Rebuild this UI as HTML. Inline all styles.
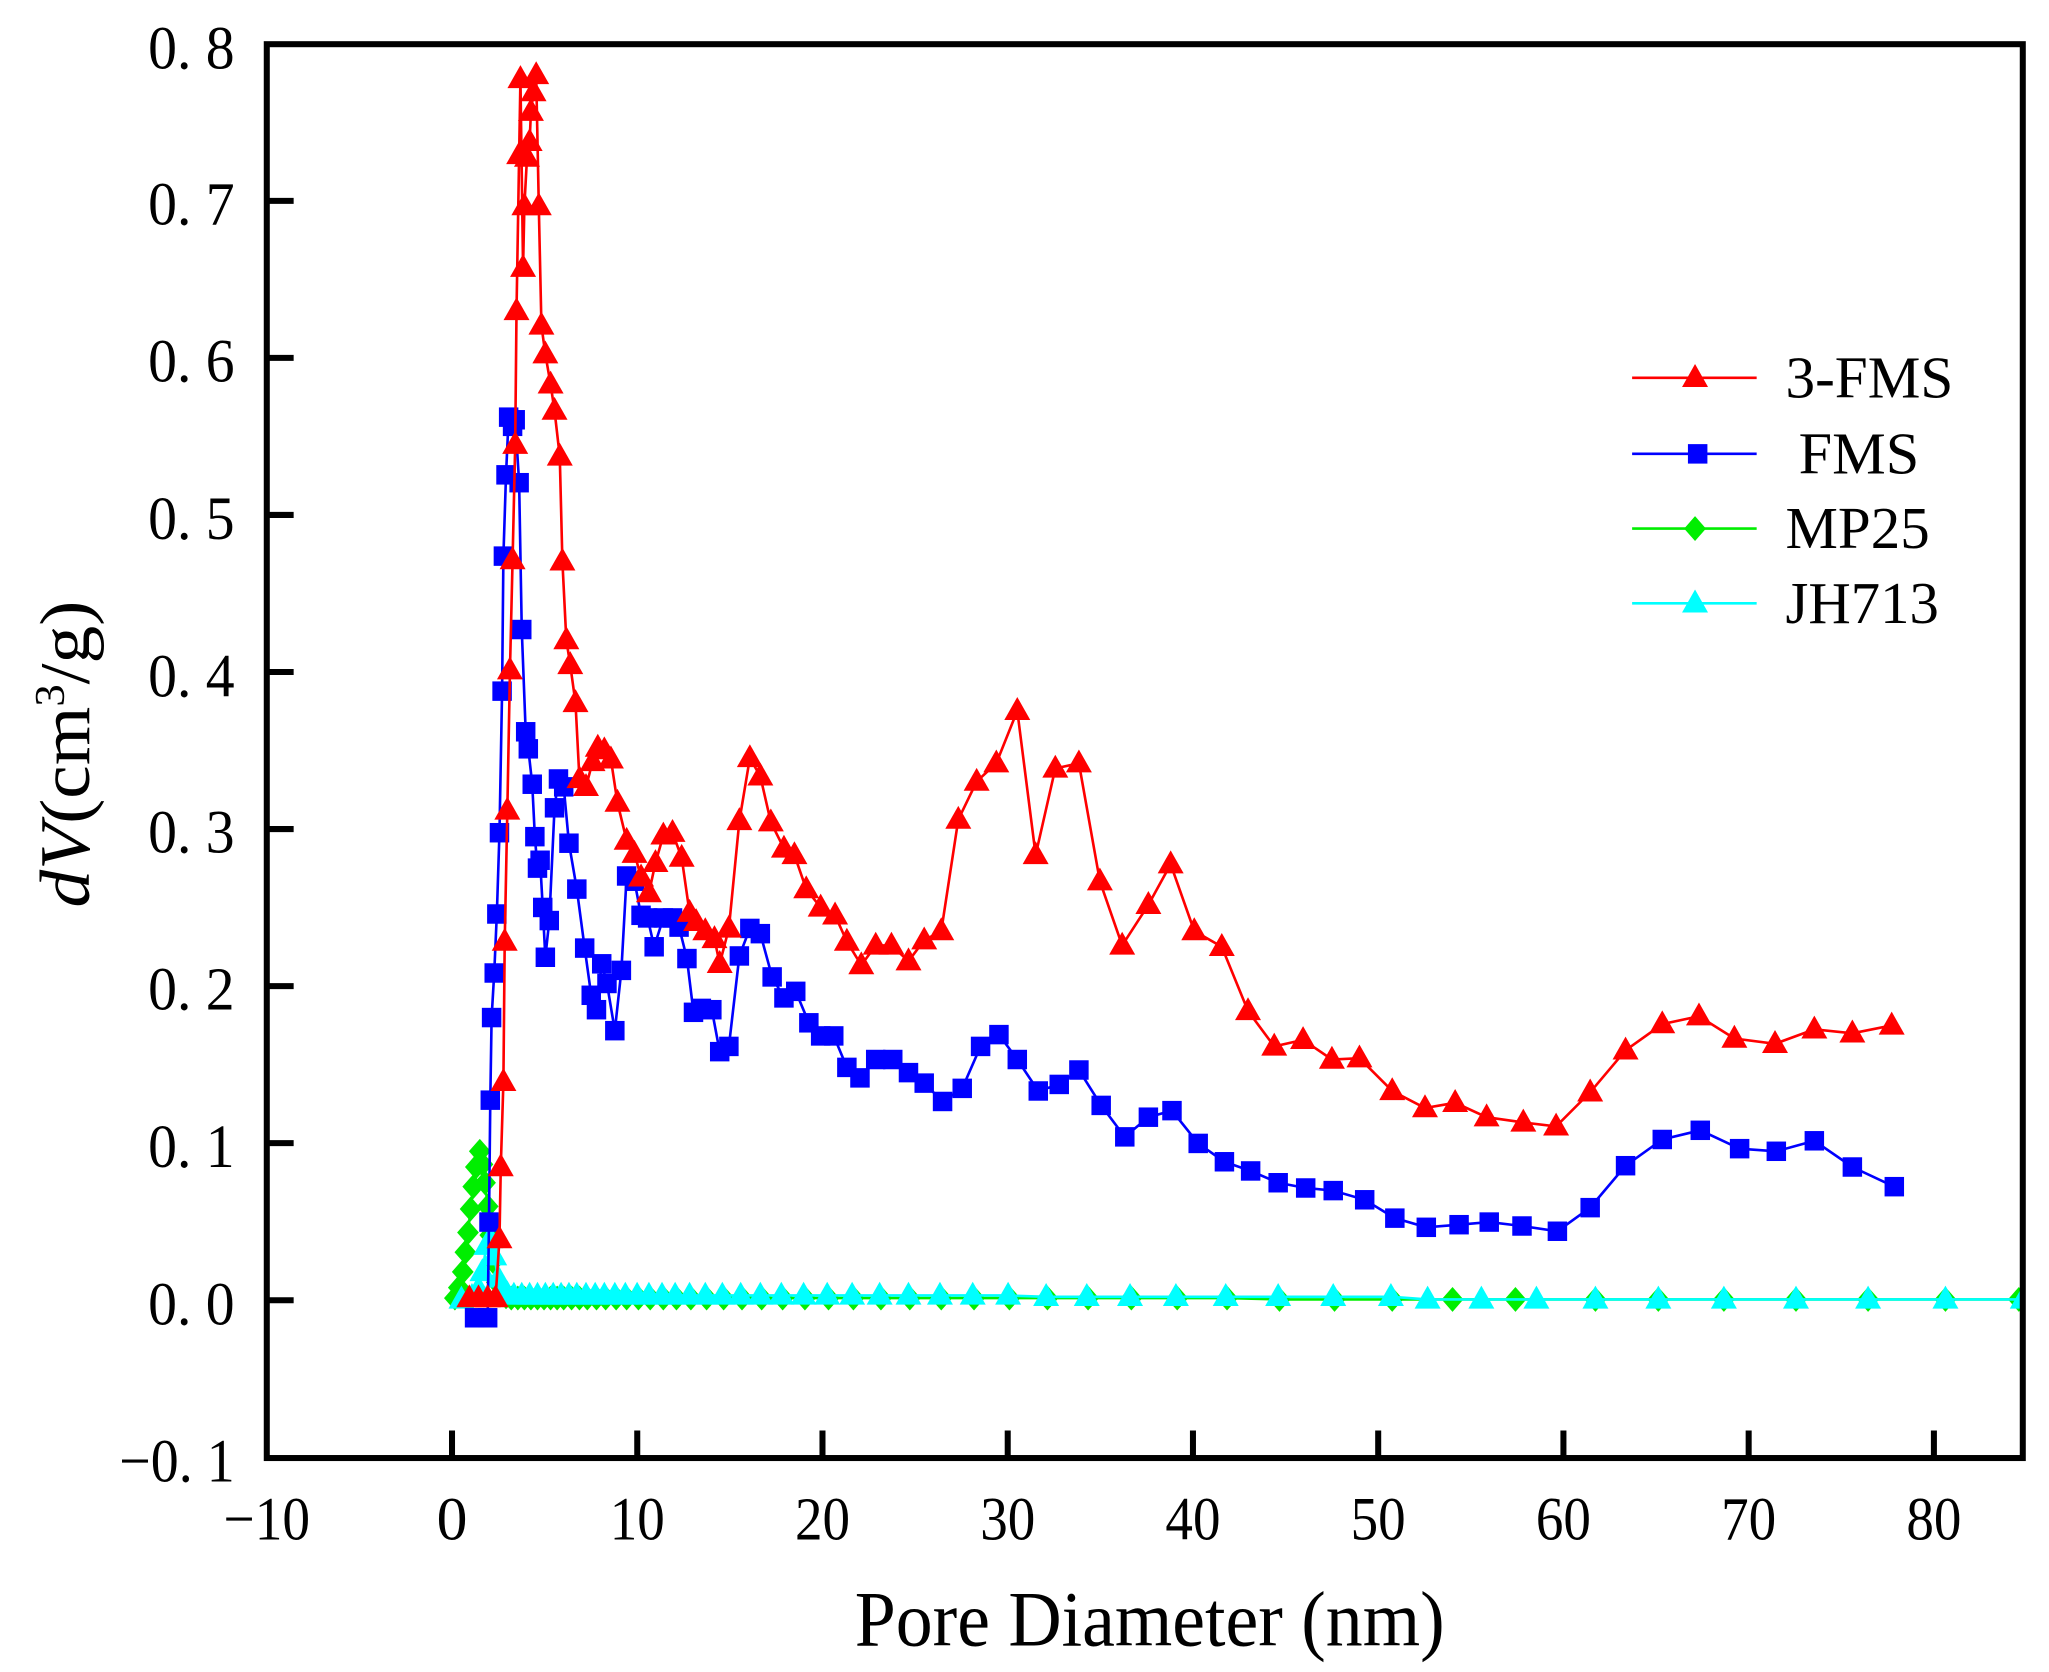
<!DOCTYPE html>
<html><head><meta charset="utf-8"><style>html,body{margin:0;padding:0;background:#fff}svg{display:block}</style></head>
<body>
<svg width="2049" height="1672" viewBox="0 0 1563 1275" xmlns="http://www.w3.org/2000/svg">
<defs>
<marker id="tr" viewBox="-9 -9 18 18" markerWidth="21" markerHeight="21" markerUnits="userSpaceOnUse" refX="0" refY="0" overflow="visible"><polygon points="0,-9 8.5,6 -8.5,6" fill="#ff0000"/></marker>
<marker id="sq" viewBox="-7 -7 14 14" markerWidth="16" markerHeight="16" markerUnits="userSpaceOnUse" refX="0" refY="0" overflow="visible"><rect x="-6.5" y="-6.5" width="13" height="13" fill="#0000ff"/></marker>
<marker id="dm" viewBox="-8 -8 16 16" markerWidth="19" markerHeight="19" markerUnits="userSpaceOnUse" refX="0" refY="0" overflow="visible"><polygon points="0,-8 7,0 0,8 -7,0" fill="#00ee00"/></marker>
<marker id="tc" viewBox="-9 -9 18 18" markerWidth="21" markerHeight="21" markerUnits="userSpaceOnUse" refX="0" refY="0" overflow="visible"><polygon points="0,-9 8.5,6 -8.5,6" fill="#00ffff"/></marker>
<clipPath id="c"><rect x="203" y="33" width="1340" height="1079"/></clipPath>
</defs>

<g clip-path="url(#c)" fill="none" stroke-width="2">
<polyline stroke="#00ee00" marker-start="url(#dm)" marker-mid="url(#dm)" marker-end="url(#dm)" points="347,990 350,982 353,970 355,955 357,940 359,922 361,905 363,890 366,878 368,888 370,902 372,920 374,942 376,962 379,978 382,986 386,989 390,990 395,990 400,990 405,990 410,990 415,990 420,990 425,990 430,990 436,990 442,990 448,990 455,990 462,990 470,990 478,990 487,990 496,990 506,990 516,990 527,990 539,990 552,990 566,990 581,990 597,990 614,990 632,990 651,990 672,990 694,990 718,990 743,990 770,990 799,990 830,990 863,990 898,990 936,990 976,991 1018,991 1062,991 1108,991 1156,991 1217,991 1265,991 1315,991 1370,991 1425,991 1484,991 1540,991"/>
<polyline stroke="#00ffff" marker-start="url(#tc)" marker-mid="url(#tc)" marker-end="url(#tc)" points="352,991 360,989 365,983 368,970 371,950 374,945 377,958 380,975 383,985 387,987 392,988 398,988 404,988 410,988 416,988 422,988 428,988 434,988 440,988 447,988 454,988 461,988 469,988 477,988 486,988 495,988 505,988 515,988 526,988 538,988 551,988 565,988 580,988 596,988 613,988 631,988 650,988 671,988 693,988 717,988 742,988 769,988 798,989 829,989 862,989 897,989 935,989 975,989 1017,989 1061,989 1089,991 1130,991 1172,991 1217,991 1265,991 1315,991 1370,991 1425,991 1484,991 1543,991"/>
<polyline stroke="#0000ff" marker-start="url(#sq)" marker-mid="url(#sq)" marker-end="url(#sq)" points="362,1005 372,1005 373,932 374,839 375,776 377,742 379,697 381,635 383,527 384,424 386,362 388,318 391,325 393,320 396,368 398,480 401,558 403,571 406,598 408,638 410,662 412,656 414,692 416,730 419,702 423,616 426,594 430,600 434,643 440,678 446,723 451,759 455,770 459,735 463,750 469,786 474,740 478,668 484,672 489,698 494,700 499,722 506,700 513,700 518,707 524,731 529,772 535,769 543,770 549,802 556,798 564,729 572,708 580,712 589,745 598,761 607,756 617,780 626,790 636,790 646,814 656,822 668,808 681,808 693,818 705,826 719,840 734,830 748,798 762,789 776,808 792,832 808,827 823,816 840,843 858,867 876,852 894,847 914,872 934,886 954,893 975,902 996,906 1017,908 1041,915 1064,929 1088,936 1113,934 1136,932 1161,935 1188,939 1213,921 1240,889 1268,869 1297,862 1327,876 1355,878 1384,870 1413,890 1445,905"/>
<polyline stroke="#ff0000" marker-start="url(#tr)" marker-mid="url(#tr)" marker-end="url(#tr)" points="358,990 365,990 372,990 378,990 381,945 382,890 384,825 385,718 387,618 389,511 391,427 393,339 394,237 396,118 397,60 399,204 400,157 402,120 404,108 405,85 407,70 409,57 411,157 413,248 416,270 420,293 423,313 427,348 429,428 432,488 435,507 439,536 442,594 447,600 452,581 456,570 461,572 466,579 471,612 478,641 484,651 489,669 495,681 500,658 506,637 513,635 520,654 526,696 531,703 538,710 545,716 549,735 556,708 564,626 572,578 580,592 588,627 598,647 606,652 615,678 626,692 637,698 646,718 657,736 668,721 680,721 693,733 705,717 718,710 731,625 745,596 760,582 776,542 790,652 805,586 823,582 839,672 856,721 876,690 893,659 911,710 932,722 952,771 972,798 994,793 1016,808 1037,807 1062,832 1087,845 1110,841 1134,852 1162,856 1187,859 1213,833 1240,801 1268,781 1296,775 1323,792 1354,796 1384,785 1413,788 1443,782"/>
</g>

<rect x="203.5" y="33.5" width="1339.5" height="1078.5" fill="none" stroke="#000" stroke-width="4.6"/>
<g stroke="#000" stroke-width="4.6">
<line x1="344.8" y1="1112" x2="344.8" y2="1091"/><line x1="486.1" y1="1112" x2="486.1" y2="1091"/><line x1="627.4" y1="1112" x2="627.4" y2="1091"/><line x1="768.7" y1="1112" x2="768.7" y2="1091"/><line x1="910" y1="1112" x2="910" y2="1091"/><line x1="1051.3" y1="1112" x2="1051.3" y2="1091"/><line x1="1192.6" y1="1112" x2="1192.6" y2="1091"/><line x1="1333.9" y1="1112" x2="1333.9" y2="1091"/><line x1="1475.2" y1="1112" x2="1475.2" y2="1091"/>
<line x1="203" y1="991.6" x2="224" y2="991.6"/><line x1="203" y1="871.8" x2="224" y2="871.8"/><line x1="203" y1="752" x2="224" y2="752"/><line x1="203" y1="632.2" x2="224" y2="632.2"/><line x1="203" y1="512.4" x2="224" y2="512.4"/><line x1="203" y1="392.6" x2="224" y2="392.6"/><line x1="203" y1="272.8" x2="224" y2="272.8"/><line x1="203" y1="153" x2="224" y2="153"/>
</g>

<g font-family="'Liberation Serif',serif" font-size="47" fill="#000" text-anchor="end" xml:space="preserve">
<text x="179" y="52" textLength="66" lengthAdjust="spacingAndGlyphs">0. 8</text><text x="179" y="171" textLength="66" lengthAdjust="spacingAndGlyphs">0. 7</text><text x="179" y="291" textLength="66" lengthAdjust="spacingAndGlyphs">0. 6</text><text x="179" y="411" textLength="66" lengthAdjust="spacingAndGlyphs">0. 5</text><text x="179" y="531" textLength="66" lengthAdjust="spacingAndGlyphs">0. 4</text><text x="179" y="650" textLength="66" lengthAdjust="spacingAndGlyphs">0. 3</text><text x="179" y="770" textLength="66" lengthAdjust="spacingAndGlyphs">0. 2</text><text x="179" y="890" textLength="66" lengthAdjust="spacingAndGlyphs">0. 1</text><text x="179" y="1010" textLength="66" lengthAdjust="spacingAndGlyphs">0. 0</text><text x="179" y="1130" textLength="88" lengthAdjust="spacingAndGlyphs">−0. 1</text>
</g>
<g font-family="'Liberation Serif',serif" font-size="47" fill="#000" text-anchor="middle">
<text x="203.5" y="1174" textLength="66" lengthAdjust="spacingAndGlyphs">−10</text><text x="344.8" y="1174">0</text><text x="486.1" y="1174" textLength="42" lengthAdjust="spacingAndGlyphs">10</text><text x="627.4" y="1174" textLength="42" lengthAdjust="spacingAndGlyphs">20</text><text x="768.7" y="1174" textLength="42" lengthAdjust="spacingAndGlyphs">30</text><text x="910" y="1174" textLength="42" lengthAdjust="spacingAndGlyphs">40</text><text x="1051.3" y="1174" textLength="42" lengthAdjust="spacingAndGlyphs">50</text><text x="1192.6" y="1174" textLength="42" lengthAdjust="spacingAndGlyphs">60</text><text x="1333.9" y="1174" textLength="42" lengthAdjust="spacingAndGlyphs">70</text><text x="1475.2" y="1174" textLength="42" lengthAdjust="spacingAndGlyphs">80</text>
</g>
<text x="652" y="1255" font-family="'Liberation Serif',serif" font-size="60" textLength="450" lengthAdjust="spacingAndGlyphs">Pore Diameter (nm)</text>
<text transform="translate(68,692) rotate(-90)" font-family="'Liberation Serif',serif" font-size="54" textLength="234" lengthAdjust="spacingAndGlyphs"><tspan font-style="italic">dV</tspan>(cm<tspan font-size="32" dy="-19">3</tspan><tspan dy="19">/g)</tspan></text>

<g stroke-width="2">
<polyline points="1245,288 1293,288 1340,288" fill="none" stroke="#ff0000" marker-mid="url(#tr)"/>
<polyline points="1245,346 1295,346 1340,346" fill="none" stroke="#0000ff" marker-mid="url(#sq)"/>
<polyline points="1245,403 1293,403 1340,403" fill="none" stroke="#00ee00" marker-mid="url(#dm)"/>
<polyline points="1245,460 1293,460 1340,460" fill="none" stroke="#00ffff" marker-mid="url(#tc)"/>
</g>
<g font-family="'Liberation Serif',serif" font-size="45" fill="#000">
<text x="1362" y="303" textLength="128" lengthAdjust="spacingAndGlyphs">3-FMS</text>
<text x="1372" y="361" textLength="92" lengthAdjust="spacingAndGlyphs">FMS</text>
<text x="1362" y="418" textLength="110" lengthAdjust="spacingAndGlyphs">MP25</text>
<text x="1362" y="475" textLength="117" lengthAdjust="spacingAndGlyphs">JH713</text>
</g>
</svg>
</body></html>
